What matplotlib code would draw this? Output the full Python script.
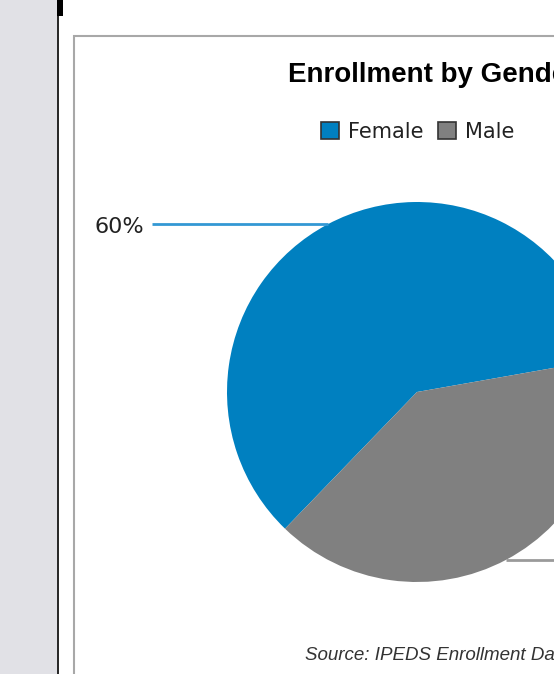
import numpy as np
import matplotlib
matplotlib.use('Agg')
import matplotlib.pyplot as plt
from matplotlib.patches import Rectangle, Patch

# datos del grafico
categorias = ['Female', 'Male']
porcentajes = [60, 40]
colores = ['#0080C0', '#808080']
colores_guia = ['#3398D4', '#9A9A9A']
titulo = 'Enrollment by Gender'
fuente = 'Source: IPEDS Enrollment Data'

W, H = 554, 674
fig = plt.figure(figsize=(W / 100, H / 100), dpi=100)
ax = fig.add_axes([0, 0, 1, 1])

# panel gris de la izquierda y la linea negra
ax.add_patch(Rectangle((0, 0), 57, H, facecolor='#E1E1E6', edgecolor='none', zorder=0))
ax.plot([57.5, 57.5], [0, H], color='black', lw=1.2, zorder=1)
ax.add_patch(Rectangle((57, H - 16), 6, 16, facecolor='black', edgecolor='none', zorder=1))

# marco del grafico
ax.add_patch(Rectangle((73.5, -100), 1000, H - 36 + 100, facecolor='white',
                       edgecolor='#A8A8A8', lw=1.5, zorder=1))

# tarta
centro = (417, H - 392)
radio = 190
inicio = 10
wedges, _ = ax.pie(porcentajes, colors=colores, startangle=inicio, counterclock=True,
                   center=centro, radius=radio, frame=True,
                   wedgeprops=dict(linewidth=0, zorder=2))
ax.set_xlim(0, W)
ax.set_ylim(0, H)
ax.set_aspect('equal')
ax.axis('off')

# lineas guia y etiquetas de porcentaje
total = sum(porcentajes)
angulo = inicio
for valor, col in zip(porcentajes, colores_guia):
    medio = np.deg2rad(angulo + 360 * valor / total / 2)
    angulo += 360 * valor / total
    px = centro[0] + radio * np.cos(medio)
    py = centro[1] + radio * np.sin(medio)
    if np.cos(medio) < 0:
        xfin = 152
        ax.plot([px, xfin], [py, py], color=col, lw=2, zorder=3, solid_capstyle='butt')
        ax.text(xfin - 8, py - 3, f'{valor}%', ha='right', va='center',
                fontsize=16, color='#222222', family='DejaVu Sans', zorder=4)
    else:
        xfin = px + 175
        ax.plot([px, xfin], [py, py], color=col, lw=2, zorder=3, solid_capstyle='butt')
        ax.text(xfin + 8, py - 3, f'{valor}%', ha='left', va='center',
                fontsize=16, color='#222222', family='DejaVu Sans', zorder=4)

# titulo
ax.text(288, H - 75, titulo, ha='left', va='center', fontsize=20,
        fontweight='bold', family='Liberation Sans', color='black', zorder=4)

# leyenda
handles = [Patch(facecolor=c, edgecolor='#333333', lw=1.2) for c in colores]
leg = ax.legend(handles, categorias, loc='upper left', bbox_to_anchor=(321, H - 122),
                bbox_transform=ax.transData, ncol=2, frameon=False,
                prop={'family': 'DejaVu Sans', 'size': 15},
                handlelength=0.85, handleheight=0.85, handletextpad=0.45,
                columnspacing=0.7, borderpad=0, borderaxespad=0)
for t in leg.get_texts():
    t.set_color('#222222')

# fuente
ax.text(305, H - 656, fuente, ha='left', va='center', fontsize=13.5, style='italic',
        family='Liberation Sans', color='#333333', zorder=4)

fig.savefig('out.png', dpi=100)
